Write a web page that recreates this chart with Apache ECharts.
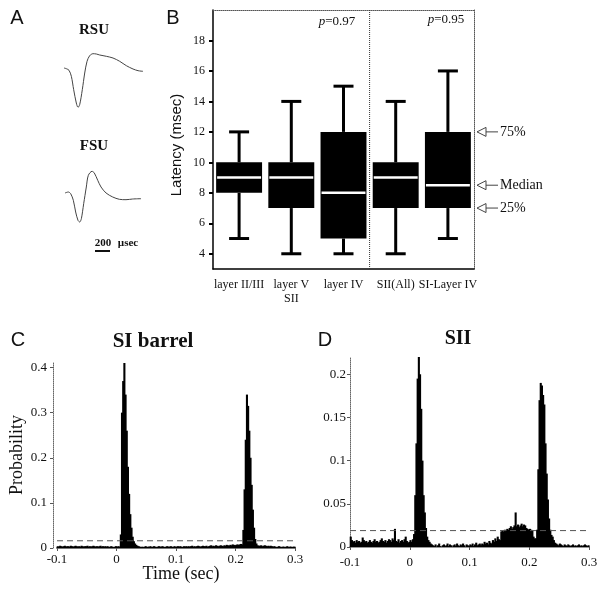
<!DOCTYPE html>
<html>
<head>
<meta charset="utf-8">
<script src="https://cdn.jsdelivr.net/npm/echarts@6/dist/echarts.min.js"></script>
<style>
html, body { margin: 0; padding: 0; background: #fff; }
#chart { width: 604px; height: 594px; }
</style>
</head>
<body>
<div id="chart"></div>
<script>
// --- A: spike waveforms (time in usec, amplitude in arbitrary units) ---
const rsuTime = [0, 31, 67, 98, 129, 164, 187, 209, 244, 276, 307, 342, 387, 431, 476, 564, 653, 742, 831, 920, 987, 1053];
const rsuAmp = [0, -0.7, -2.3, -8.3, -21.7, -35, -39.3, -36.7, -21.7, -5, 6.7, 12.3, 14.3, 14, 13, 11.7, 10, 6.7, 2.3, -1, -2.7, -3.3];
const fsuTime = [0, 44, 76, 111, 142, 173, 196, 218, 249, 284, 311, 360, 391, 436, 480, 547, 636, 724, 813, 902, 1013];
const fsuAmp = [0, 1, -0.7, -7.3, -19, -27.3, -29, -25.7, -10.7, 6, 17.7, 21.7, 20, 12.7, 6, 0, -4, -6.3, -6.7, -6, -5.7];

// --- B: latency box plots (msec) ---
const groups = ['layer II/III', 'layer V', 'layer IV', 'SII(All)', 'SI-Layer IV'];
const latMin = [5, 4, 4, 4, 5];
const latQ1 = [8, 7, 5, 7, 7];
const latMedian = [9, 9, 8, 9, 8.5];
const latQ3 = [10, 10, 12, 10, 12];
const latMax = [12, 14, 15, 14, 16];
const latencyTicks = [4, 6, 8, 10, 12, 14, 16, 18];
const pValues = ['0.97', '0.95'];
const dividerAt = 2.5; // between layer IV and SII(All)

// --- C / D: PSTH, 2 ms bins from -0.1 s ---
const binStart = -0.1;
const binWidth = 0.002;
const timeTicks = [-0.1, 0, 0.1, 0.2, 0.3];
const siTicks = [0, 0.1, 0.2, 0.3, 0.4];
const siiTicks = [0, 0.05, 0.1, 0.15, 0.2];
const siThreshold = 0.016;
const siiThreshold = 0.019;

const siProb = [
  0.004, 0.003, 0.005, 0.004, 0.003, 0.004, 0.005, 0.003, 0.004, 0.004,
  0.003, 0.005, 0.004, 0.003, 0.004, 0.005, 0.004, 0.003, 0.004, 0.003,
  0.005, 0.004, 0.003, 0.004, 0.004, 0.005, 0.003, 0.004, 0.003, 0.004,
  0.005, 0.004, 0.003, 0.004, 0.003, 0.004, 0.005, 0.003, 0.004, 0.003,
  0.004, 0.003, 0.004, 0.002, 0.003, 0.004, 0.003, 0.002, 0.003, 0.004,
  0.003, 0.004, 0.003, 0.03, 0.30, 0.37, 0.41, 0.34, 0.26, 0.18,
  0.12, 0.075, 0.045, 0.025, 0.015, 0.010, 0.007, 0.005, 0.004, 0.003,
  0.002, 0.003, 0.002, 0.003, 0.004, 0.002, 0.003, 0.003, 0.004, 0.002,
  0.003, 0.004, 0.003, 0.002, 0.003, 0.004, 0.003, 0.003, 0.004, 0.003,
  0.002, 0.003, 0.004, 0.003, 0.003, 0.004, 0.003, 0.002, 0.004, 0.003,
  0.003, 0.004, 0.003, 0.004, 0.003, 0.002, 0.004, 0.003, 0.004, 0.003,
  0.004, 0.003, 0.004, 0.005, 0.003, 0.004, 0.003, 0.004, 0.005, 0.004,
  0.003, 0.004, 0.005, 0.004, 0.004, 0.005, 0.003, 0.004, 0.005, 0.006,
  0.004, 0.005, 0.004, 0.006, 0.005, 0.004, 0.005, 0.006, 0.005, 0.004,
  0.006, 0.005, 0.007, 0.006, 0.005, 0.007, 0.006, 0.008, 0.007, 0.006,
  0.007, 0.008, 0.007, 0.008, 0.009, 0.008, 0.04, 0.13, 0.24, 0.34,
  0.315, 0.26, 0.2, 0.14, 0.085, 0.045, 0.02, 0.01, 0.006, 0.005,
  0.005, 0.006, 0.004, 0.005, 0.006, 0.005, 0.004, 0.005, 0.004, 0.005,
  0.004, 0.003, 0.004, 0.003, 0.002, 0.003, 0.004, 0.003, 0.002, 0.003,
  0.003, 0.002, 0.003, 0.004, 0.002, 0.003, 0.003, 0.002, 0.003, 0.003
];

const siiProb = [
  0.012, 0.008, 0.006, 0.007, 0.005, 0.008, 0.006, 0.007, 0.005, 0.006,
  0.011, 0.008, 0.006, 0.007, 0.005, 0.006, 0.008, 0.006, 0.005, 0.007,
  0.009, 0.006, 0.007, 0.005, 0.006, 0.008, 0.010, 0.007, 0.006, 0.008,
  0.005, 0.007, 0.009, 0.008, 0.006, 0.010, 0.008, 0.021, 0.007, 0.006,
  0.009, 0.005, 0.007, 0.008, 0.006, 0.009, 0.012, 0.007, 0.005, 0.006,
  0.008, 0.006, 0.009, 0.015, 0.06, 0.12, 0.195, 0.22, 0.2, 0.16,
  0.1, 0.06, 0.04, 0.022, 0.012, 0.008, 0.006, 0.004, 0.003, 0.002,
  0.001, 0.003, 0, 0.002, 0.004, 0.001, 0, 0.002, 0.003, 0.001,
  0.002, 0.004, 0.001, 0.003, 0.002, 0, 0.002, 0.003, 0.001, 0.004,
  0.002, 0.001, 0.003, 0.002, 0.004, 0.002, 0, 0.003, 0.002, 0.001,
  0.003, 0.002, 0.004, 0.001, 0.003, 0.005, 0.002, 0.003, 0.004, 0.002,
  0.004, 0.003, 0.006, 0.004, 0.005, 0.003, 0.007, 0.005, 0.004, 0.008,
  0.006, 0.010, 0.007, 0.012, 0.009, 0.008, 0.018, 0.019, 0.018, 0.020,
  0.019, 0.021, 0.020, 0.022, 0.024, 0.021, 0.023, 0.025, 0.040, 0.024,
  0.026, 0.023, 0.025, 0.027, 0.024, 0.026, 0.025, 0.022, 0.021, 0.020,
  0.021, 0.020, 0.019, 0.012, 0.010, 0.010, 0.02, 0.09, 0.17, 0.19,
  0.187, 0.176, 0.165, 0.12, 0.085, 0.055, 0.033, 0.02, 0.014, 0.012,
  0.008, 0.005, 0.004, 0.003, 0.002, 0.004, 0.003, 0.002, 0.001, 0.003,
  0.002, 0.001, 0.003, 0.002, 0.001, 0.002, 0.003, 0.001, 0.002, 0.001,
  0.002, 0.003, 0.001, 0.002, 0.001, 0.002, 0.003, 0.002, 0.001, 0.002
];

const SERIF = '"Liberation Serif", "Times New Roman", serif';
const SANS = '"Liberation Sans", Arial, sans-serif';

const chart = echarts.init(document.getElementById('chart'), null, { renderer: 'canvas' });

// bins -> [t0, t1, p]
function toBins(arr) {
  return arr.map((p, i) => [binStart + i * binWidth, binStart + (i + 1) * binWidth, p]);
}

function renderBin(params, api) {
  const a = api.coord([api.value(0), api.value(2)]);
  const b = api.coord([api.value(1), 0]);
  // slight overlap so neighbouring bins read as one solid shape
  return {
    type: 'rect',
    shape: { x: a[0] - 0.3, y: a[1], width: b[0] - a[0] + 0.9, height: b[1] - a[1] },
    style: { fill: '#000' }
  };
}

function renderBox(params, api) {
  const i = api.value(0);
  const band = api.size([1, 0])[0];
  const bw = band * 0.88;
  const cap = 20;
  const pLo = api.coord([i, api.value(1)]);
  const pQ1 = api.coord([i, api.value(2)]);
  const pMed = api.coord([i, api.value(3)]);
  const pQ3 = api.coord([i, api.value(4)]);
  const pHi = api.coord([i, api.value(5)]);
  const x = pLo[0];
  const stroke = { stroke: '#000', lineWidth: 3 };
  return {
    type: 'group',
    children: [
      { type: 'line', shape: { x1: x, y1: pLo[1], x2: x, y2: pQ1[1] }, style: stroke },
      { type: 'line', shape: { x1: x, y1: pQ3[1], x2: x, y2: pHi[1] }, style: stroke },
      { type: 'line', shape: { x1: x - cap / 2, y1: pLo[1], x2: x + cap / 2, y2: pLo[1] }, style: stroke },
      { type: 'line', shape: { x1: x - cap / 2, y1: pHi[1], x2: x + cap / 2, y2: pHi[1] }, style: stroke },
      { type: 'rect', shape: { x: x - bw / 2, y: pQ3[1], width: bw, height: pQ1[1] - pQ3[1] }, style: { fill: '#000' } },
      { type: 'line', shape: { x1: x - bw / 2 + 1, y1: pMed[1], x2: x + bw / 2 - 1, y2: pMed[1] }, style: { stroke: '#fff', lineWidth: 2.5 } }
    ]
  };
}

const histLabel = { fontFamily: SERIF, fontSize: 13, color: '#111' };

const option = {
  animation: false,
  grid: [
    { left: 64, top: 40, width: 80, height: 80 },     // RSU
    { left: 65, top: 160, width: 80, height: 80 },    // FSU
    { left: 213, top: 10, width: 261, height: 259 },  // B
    { left: 57, top: 363, width: 238, height: 185 },  // C
    { left: 350, top: 357, width: 239, height: 190 }  // D
  ],
  xAxis: [
    { gridIndex: 0, type: 'value', min: 0, max: 1066, show: false },
    { gridIndex: 1, type: 'value', min: 0, max: 1066, show: false },
    {
      gridIndex: 2, type: 'category', data: groups,
      axisLine: { lineStyle: { color: '#000', width: 1.5 } },
      axisTick: { alignWithLabel: true, length: 4, lineStyle: { color: '#000', width: 2 } },
      axisLabel: {
        interval: 0, margin: 9, fontFamily: SERIF, fontSize: 12, color: '#111', lineHeight: 14,
        formatter: v => v === 'layer V' ? 'layer V\nSII' : v
      },
      splitLine: { show: false }
    },
    {
      gridIndex: 2, type: 'category', data: groups, position: 'top',
      axisLine: { lineStyle: { color: '#555', width: 1, type: 'dotted' } },
      axisTick: { show: false }, axisLabel: { show: false }
    },
    {
      gridIndex: 3, type: 'value', min: -0.1, max: 0.3,
      axisLine: { onZero: false, lineStyle: { color: '#777', width: 2 } },
      axisTick: { customValues: timeTicks, length: 3, lineStyle: { color: '#555' } },
      axisLabel: Object.assign({ customValues: timeTicks, margin: 5 }, histLabel),
      splitLine: { show: false }
    },
    {
      gridIndex: 4, type: 'value', min: -0.1, max: 0.3,
      axisLine: { onZero: false, lineStyle: { color: '#777', width: 1.5 } },
      axisTick: { customValues: timeTicks, length: 3, lineStyle: { color: '#555' } },
      axisLabel: Object.assign({ customValues: timeTicks, margin: 9 }, histLabel),
      splitLine: { show: false }
    },
    // hidden positional axis for the B divider
    { gridIndex: 2, type: 'value', min: -0.5, max: groups.length - 0.5, show: false }
  ],
  yAxis: [
    { gridIndex: 0, type: 'value', min: -52, max: 28, show: false },
    { gridIndex: 1, type: 'value', min: -47, max: 33, show: false },
    {
      gridIndex: 2, type: 'value', min: 3, max: 20,
      axisLine: { show: true, onZero: false, lineStyle: { color: '#000', width: 1.5 } },
      axisTick: { show: true, customValues: latencyTicks, length: 4, lineStyle: { color: '#000', width: 2 } },
      axisLabel: { customValues: latencyTicks, margin: 8, fontFamily: SERIF, fontSize: 12, color: '#111' },
      splitLine: { show: false }
    },
    {
      gridIndex: 2, type: 'value', min: 3, max: 20, position: 'right',
      axisLine: { show: true, onZero: false, lineStyle: { color: '#555', width: 1, type: 'dotted' } },
      axisTick: { show: false }, axisLabel: { show: false }, splitLine: { show: false }
    },
    {
      gridIndex: 3, type: 'value', min: 0, max: 0.41, offset: 4,
      axisLine: { show: true, onZero: false, lineStyle: { color: '#666', width: 1, type: 'dotted' } },
      axisTick: { show: true, customValues: siTicks, length: 3, lineStyle: { color: '#555' } },
      axisLabel: Object.assign({ customValues: siTicks, margin: 6 }, histLabel),
      splitLine: { show: false }
    },
    {
      gridIndex: 4, type: 'value', min: 0, max: 0.22,
      axisLine: { show: true, onZero: false, lineStyle: { color: '#666', width: 1, type: 'dotted' } },
      axisTick: { show: true, customValues: siiTicks, length: 3, lineStyle: { color: '#555' } },
      axisLabel: Object.assign({ customValues: siiTicks, margin: 4 }, histLabel),
      splitLine: { show: false }
    }
  ],
  series: [
    {
      type: 'line', xAxisIndex: 0, yAxisIndex: 0, smooth: 0.3, symbol: 'none',
      lineStyle: { color: '#444', width: 1 },
      data: rsuTime.map((t, i) => [t, rsuAmp[i]])
    },
    {
      type: 'line', xAxisIndex: 1, yAxisIndex: 1, smooth: 0.3, symbol: 'none',
      lineStyle: { color: '#444', width: 1 },
      data: fsuTime.map((t, i) => [t, fsuAmp[i]])
    },
    {
      type: 'custom', xAxisIndex: 2, yAxisIndex: 2, renderItem: renderBox,
      encode: { x: 0, y: [1, 2, 3, 4, 5] },
      data: groups.map((g, i) => [i, latMin[i], latQ1[i], latMedian[i], latQ3[i], latMax[i]])
    },
    {
      type: 'line', xAxisIndex: 6, yAxisIndex: 2, symbol: 'none',
      lineStyle: { color: '#333', width: 1, type: 'dotted' },
      data: [[dividerAt, 3], [dividerAt, 20]]
    },
    {
      type: 'custom', xAxisIndex: 4, yAxisIndex: 4, renderItem: renderBin,
      encode: { x: [0, 1], y: 2 }, data: toBins(siProb)
    },
    {
      type: 'line', xAxisIndex: 4, yAxisIndex: 4, symbol: 'none',
      lineStyle: { color: '#555', width: 1, type: [6, 4] },
      data: [[-0.1, siThreshold], [0.3, siThreshold]]
    },
    {
      type: 'custom', xAxisIndex: 5, yAxisIndex: 5, renderItem: renderBin,
      encode: { x: [0, 1], y: 2 }, data: toBins(siiProb)
    },
    {
      type: 'line', xAxisIndex: 5, yAxisIndex: 5, symbol: 'none',
      lineStyle: { color: '#555', width: 1, type: [6, 4] },
      data: [[-0.1, siiThreshold], [0.3, siiThreshold]]
    }
  ]
};

chart.setOption(option);

// text and annotations
const g = [];
function txt(text, x, y, font, extra) {
  g.push({
    type: 'text', x: x, y: y, rotation: (extra && extra.rotation) || 0,
    style: Object.assign({ text: text, align: 'center', verticalAlign: 'middle', fill: '#111' }, font, (extra && extra.style) || {})
  });
}
const letterFont = { fontFamily: SANS, fontSize: 20 };
txt('A', 17, 18, letterFont);
txt('B', 173, 18, letterFont);
txt('C', 18, 340, letterFont);
txt('D', 325, 340, letterFont);

txt('RSU', 94, 30, { fontFamily: SERIF, fontSize: 15, fontWeight: 'bold' });
txt('FSU', 94, 146, { fontFamily: SERIF, fontSize: 15, fontWeight: 'bold' });
txt('200', 103, 243, { fontFamily: SERIF, fontSize: 11, fontWeight: 'bold' });
g.push({ type: 'line', shape: { x1: 95, y1: 251, x2: 110, y2: 251 }, style: { stroke: '#111', lineWidth: 2 } });
txt('µsec', 128, 243, { fontFamily: SERIF, fontSize: 11, fontWeight: 'bold' });

txt('Latency (msec)', 177, 145, { fontFamily: SANS, fontSize: 15 }, { rotation: Math.PI / 2 });
const pStyle = { fontFamily: SERIF, fontSize: 13 };
const rich = { i: { fontFamily: SERIF, fontSize: 13, fontStyle: 'italic', fill: '#111' } };
txt('{i|p}=' + pValues[0], 337, 22, pStyle, { style: { rich: rich } });
txt('{i|p}=' + pValues[1], 446, 20, pStyle, { style: { rich: rich } });

txt('SI barrel', 153, 342, { fontFamily: SERIF, fontSize: 21, fontWeight: 'bold' });
txt('SII', 458, 339, { fontFamily: SERIF, fontSize: 20, fontWeight: 'bold' });
txt('Probability', 17, 455, { fontFamily: SERIF, fontSize: 18 }, { rotation: Math.PI / 2 });
txt('Time (sec)', 181, 574, { fontFamily: SERIF, fontSize: 18 });

// arrows pointing at the last box (SI-Layer IV)
const last = groups.length - 1;
const notes = [['75%', latQ3[last]], ['Median', latMedian[last]], ['25%', latQ1[last]]];
notes.forEach(([label, v]) => {
  const y = chart.convertToPixel({ xAxisIndex: 2, yAxisIndex: 2 }, [last, v])[1];
  const x0 = 477;
  g.push({ type: 'polygon', shape: { points: [[x0, y], [x0 + 9, y - 4.5], [x0 + 9, y + 4.5]] }, style: { fill: '#fff', stroke: '#444', lineWidth: 1 } });
  g.push({ type: 'line', shape: { x1: x0 + 9, y1: y, x2: x0 + 21, y2: y }, style: { stroke: '#444', lineWidth: 1 } });
  g.push({ type: 'text', x: x0 + 23, y: y, style: { text: label, align: 'left', verticalAlign: 'middle', fontFamily: SERIF, fontSize: 14, fill: '#111' } });
});

chart.setOption({ graphic: g });
</script>
</body>
</html>
